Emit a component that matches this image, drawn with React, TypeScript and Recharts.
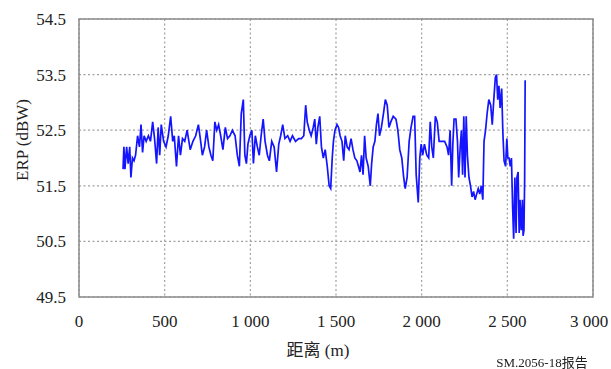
import { LineChart, Line, XAxis, YAxis, CartesianGrid, ReferenceArea } from 'recharts'

// distance along the route (m)
const distance = [
  257, 262, 268, 278, 287, 296, 303, 312, 321, 330, 342, 353, 362, 371, 380, 392, 405, 417, 430, 441,
  453, 462, 471, 480, 494, 508, 521, 535, 547, 556, 569, 581, 592, 604, 617, 631, 649, 665, 681, 697,
  708, 720, 733, 745, 758, 770, 781, 793, 804, 815, 827, 840, 854, 867, 881, 895, 911, 924, 936, 947,
  959, 968, 977, 986, 997, 1009, 1018, 1029, 1041, 1052, 1063, 1075, 1086, 1100, 1111, 1125, 1139, 1153,
  1166, 1177, 1189, 1202, 1218, 1232, 1246, 1264, 1282, 1298, 1312, 1323, 1332, 1344, 1355, 1367, 1376,
  1385, 1394, 1405, 1415, 1426, 1437, 1449, 1460, 1469, 1478, 1485, 1494, 1506, 1515, 1524, 1535, 1545,
  1554, 1565, 1576, 1588, 1599, 1610, 1622, 1631, 1640, 1649, 1658, 1667, 1676, 1688, 1700, 1708, 1717,
  1727, 1736, 1745, 1754, 1765, 1777, 1788, 1799, 1809, 1820, 1834, 1850, 1861, 1872, 1884, 1895, 1904,
  1915, 1927, 1938, 1950, 1959, 1968, 1980, 1989, 1997, 2006, 2016, 2030, 2041, 2050, 2059, 2068, 2080,
  2091, 2102, 2118, 2134, 2148, 2157, 2166, 2175, 2182, 2189, 2200, 2209, 2216, 2225, 2232, 2239, 2246,
  2253, 2260, 2267, 2276, 2285, 2294, 2303, 2312, 2321, 2330, 2339, 2348, 2357, 2364, 2373, 2382, 2392,
  2403, 2412, 2421, 2430, 2437, 2444, 2451, 2458, 2467, 2474, 2481, 2490, 2497, 2503, 2510, 2517, 2524,
  2531, 2537, 2544, 2551, 2556, 2563, 2569, 2574, 2581, 2588, 2592, 2597, 2601, 2604,
]

// effective radiated power (dBW)
const erp = [
  51.8, 52.2, 51.8, 52.2, 51.9, 52.2, 51.65, 52.0, 51.95, 52.05, 52.4, 52.2, 52.6, 52.1, 52.4, 52.3,
  52.4, 52.3, 52.65, 52.35, 51.9, 52.55, 52.05, 52.6, 52.3, 52.2, 52.4, 52.75, 52.3, 52.4, 51.85, 52.4,
  52.05, 52.35, 52.3, 52.5, 52.15, 52.3, 52.4, 52.6, 52.35, 52.05, 52.2, 52.5, 52.2, 52.05, 51.95, 52.65,
  52.5, 52.6, 52.4, 52.15, 52.55, 52.35, 52.4, 52.5, 52.4, 52.05, 51.85, 52.8, 53.05, 52.05, 51.9, 52.25,
  52.4, 52.5, 51.9, 52.4, 52.2, 52.05, 52.4, 52.7, 52.3, 52.05, 51.95, 52.3, 52.2, 51.75, 52.25, 52.4,
  52.6, 52.35, 52.4, 52.3, 52.4, 52.3, 52.35, 52.35, 52.4, 52.95, 52.65, 52.5, 52.4, 52.55, 52.7, 52.25,
  52.55, 52.75, 52.2, 52.0, 52.15, 51.85, 51.5, 51.45, 52.0, 52.3, 52.5, 52.6, 52.55, 52.4, 52.3, 51.95,
  52.4, 52.2, 52.15, 52.35, 52.15, 52.0, 51.95, 51.85, 51.75, 52.05, 51.7, 52.4, 52.0, 51.85, 51.5, 51.9,
  52.2, 52.3, 52.6, 52.8, 52.4, 52.55, 52.8, 53.05, 52.95, 52.55, 52.65, 52.75, 52.7, 52.5, 52.15, 52.0,
  51.65, 51.45, 51.65, 52.3, 52.55, 52.75, 52.75, 51.7, 51.2, 52.0, 52.25, 52.05, 52.25, 52.05, 52.0,
  52.65, 52.2, 52.0, 52.75, 52.65, 52.3, 52.3, 52.3, 52.2, 52.05, 52.5, 51.5, 52.25, 52.7, 52.7, 52.3,
  51.65, 52.2, 52.5, 51.7, 52.75, 51.65, 52.75, 52.05, 51.65, 51.5, 51.3, 51.4, 51.25, 51.35, 51.45,
  51.35, 51.5, 51.25, 52.3, 52.5, 52.8, 53.05, 52.95, 52.6, 53.05, 53.45, 53.5, 53.05, 53.3, 52.9, 53.25,
  52.45, 51.95, 51.85, 52.35, 52.0, 52.0, 51.85, 52.0, 51.1, 50.55, 51.65, 50.65, 51.65, 51.75, 50.65,
  51.25, 50.7, 51.25, 50.6, 50.7, 51.6, 53.4,
]

const xTicks = [0, 500, 1000, 1500, 2000, 2500, 3000]
const yTicks = [49.5, 50.5, 51.5, 52.5, 53.5, 54.5]

const data = distance.map((d, i) => ({ d, v: erp[i] }))

const serif = '"Liberation Serif", "Noto Sans CJK SC", serif'
const ink = '#222'
const fmtDistance = (v: number) => (v >= 1000 ? `${Math.floor(v / 1000)} ${String(v % 1000).padStart(3, '0')}` : String(v))

// x tick label, pulled in a little so the last one stays inside the frame
function DistanceTick({ x, y, payload }: { x?: number; y?: number; payload?: { value: number } }) {
  const cx = Math.min(x ?? 0, 589)
  return (
    <text x={cx} y={(y ?? 0) + 22} textAnchor="middle" fontSize={17} fill={ink} fontFamily={serif}>
      {fmtDistance(payload?.value ?? 0)}
    </text>
  )
}

export default function App() {
  return (
    <div style={{ position: 'fixed', left: 0, top: 0, width: 611, height: 369, background: '#fff', fontFamily: serif }}>
      <LineChart width={611} height={369} data={data} margin={{ top: 19, right: 18, bottom: 0, left: 0 }}>
        <CartesianGrid stroke="#a0a0a0" strokeDasharray="2 2.5" strokeWidth={1.2} />
        <XAxis
          dataKey="d"
          type="number"
          domain={[0, 3000]}
          ticks={xTicks}
          tickLine={false}
          axisLine={false}
          height={72}
          interval={0}
          tick={<DistanceTick />}
        />
        <YAxis
          type="number"
          domain={[49.5, 54.5]}
          ticks={yTicks}
          tickFormatter={(v: number) => v.toFixed(1)}
          tickLine={false}
          axisLine={false}
          width={79}
          interval={0}
          tick={{ fontSize: 17, fill: ink, fontFamily: serif }}
          dx={-5}
        />
        <ReferenceArea x1={0} x2={3000} y1={49.5} y2={54.5} fill="none" stroke="#8a8a8a" strokeWidth={1.5} />
        <Line
          dataKey="v"
          type="linear"
          stroke="#1414ff"
          strokeWidth={1.7}
          dot={false}
          isAnimationActive={false}
        />
      </LineChart>
      <div style={{ position: 'absolute', left: 0, top: 0, width: 611, height: 369, pointerEvents: 'none' }}>
        <div
          style={{
            position: 'absolute',
            left: 23,
            top: 140,
            transform: 'translate(-50%, -50%) rotate(-90deg)',
            fontSize: 17,
            color: ink,
            whiteSpace: 'nowrap',
          }}
        >
          ERP (dBW)
        </div>
        <div style={{ position: 'absolute', left: 318, top: 348, transform: 'translate(-50%, -50%)', fontSize: 17, color: ink, whiteSpace: 'nowrap' }}>
          距离 (m)
        </div>
        <div style={{ position: 'absolute', left: 542, top: 361, transform: 'translate(-50%, -50%)', fontSize: 13, color: ink, whiteSpace: 'nowrap' }}>
          SM.2056-18报告
        </div>
      </div>
    </div>
  )
}
